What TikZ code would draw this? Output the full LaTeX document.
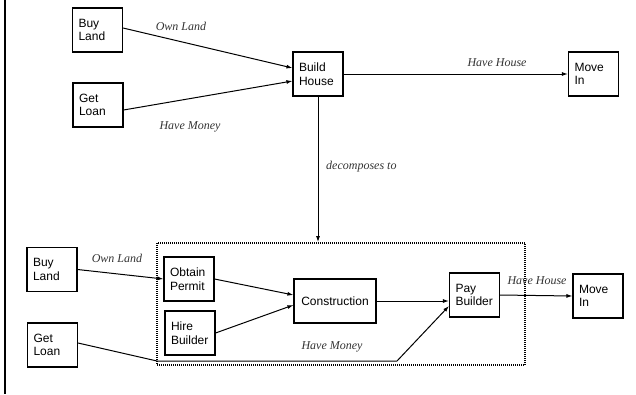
\documentclass[tikz,border=0pt]{standalone}
\usepackage{fontspec}
\setmainfont{Liberation Serif}
\setsansfont{Liberation Sans}
\usetikzlibrary{arrows.meta}
\tikzset{
  box/.style={draw, line width=1.1pt, inner xsep=6pt, inner ysep=0pt, text width=38pt,
    minimum height=44pt, align=left, font=\sffamily\fontsize{12}{13.5}\selectfont},
  lbl/.style={font=\itshape\fontsize{12}{13}\selectfont, text=black!80, inner sep=1pt},
  flow/.style={line width=1pt, -{Latex[length=6pt,width=4pt]}},
}
\begin{document}
\begin{tikzpicture}[x=1pt,y=-1pt]
  \useasboundingbox (0,0) rectangle (636,394);
  % page edge on the left
  \draw[line width=1.1pt] (5,0) -- (5,394);

  % upper level
  \node[box] (bl1) at (97.5,30) {Buy\\Land};
  \node[box] (gl1) at (98,105) {Get\\Loan};
  \node[box] (bh)  at (318,74) {Build\\House};
  \node[box] (mi1) at (593.5,74) {Move\\In};

  \draw[flow] ([yshift=2pt]bl1.east) -- ([yshift=6pt]bh.west);
  \draw[flow] ([yshift=-5pt]gl1.east) -- ([yshift=-7pt]bh.west);
  \draw[flow] (bh.east) -- (mi1.west);
  \node[lbl] (t1) at (181,26) {Own Land};
  \node[lbl] (t2) at (190,127) {Have Money};
  \node[lbl] (t3) at (497,63) {Have House};

  % decomposition frame
  \node[draw, line width=1.8pt, dash pattern=on 1pt off 1pt, minimum width=368pt,
        minimum height=122pt, inner sep=0pt] (frame) at (341,304) {};
  \draw[flow] (bh.south) -- (frame.north -| bh.south);
  \node[lbl, anchor=west] (t4) at (325,167) {decomposes to};

  % lower level
  \node[box] (bl2) at (52,269.5) {Buy\\Land};
  \node[box] (gl2) at (52.5,345) {Get\\Loan};
  \node[box] (op)  at (189,279) {Obtain\\Permit};
  \node[box] (hb)  at (190,333) {Hire\\Builder};
  \node[box, text width=70pt, align=center] (co) at (335,301) {Construction};
  \node[box] (pb)  at (474.5,295) {Pay\\Builder};
  \node[box] (mi2) at (598,296) {Move\\In};

  \draw[flow] (bl2.east) -- (op.west);
  \draw[flow] (op.east) -- ([yshift=6pt]co.west);
  \draw[flow] (hb.east) -- ([yshift=-4pt]co.west);
  \draw[flow] (co.east) -- (pb.west |- co.east);
  \coordinate (m1) at (157,361);
  \coordinate (m2) at (397,361);
  \draw[flow] ([yshift=2pt]gl2.east) -- (m1) -- (m2) -- ([yshift=-11pt]pb.west);
  \draw[flow] (pb.east) -- (mi2.west);
  \node[lbl] (t5) at (117,258) {Own Land};
  \node[lbl] (t6) at (332,347) {Have Money};
  \node[lbl] (t7) at (537,281) {Have House};
\end{tikzpicture}
\end{document}
